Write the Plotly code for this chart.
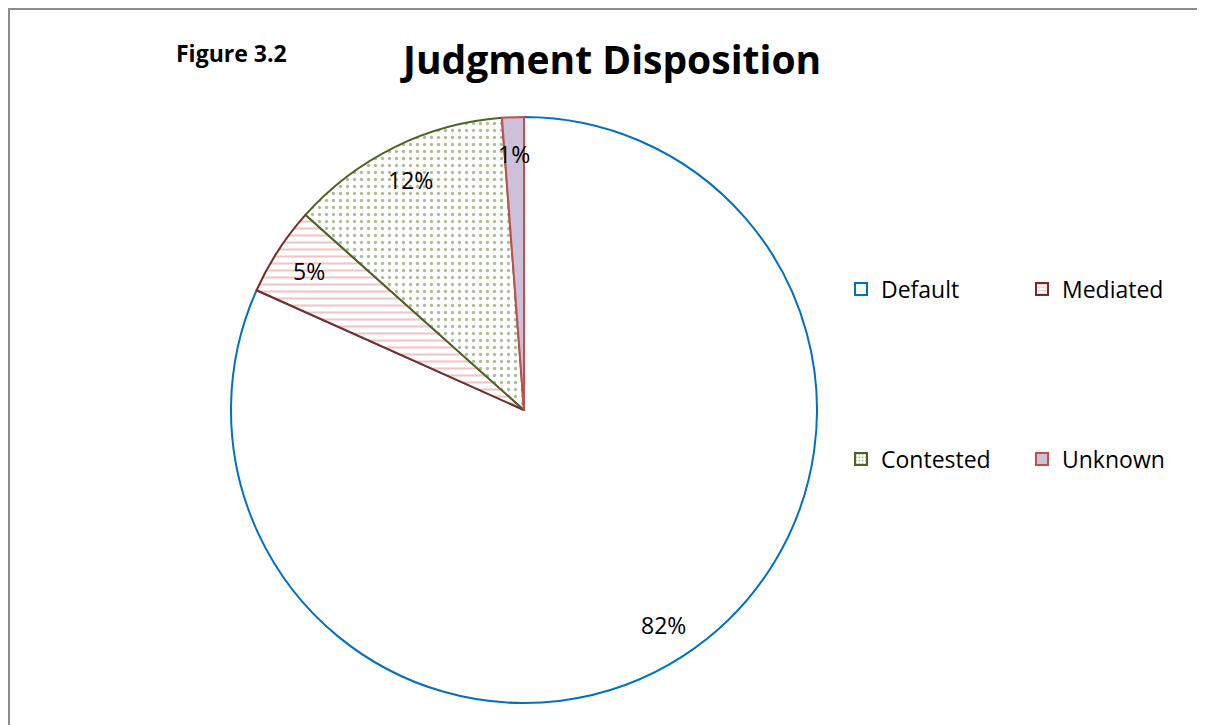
import math
import plotly.graph_objects as go

# ---- data ----
categories = ["Default", "Mediated", "Contested", "Unknown"]
values = [81.7, 4.9, 12.2, 1.2]
title_text = "Judgment Disposition"
figure_label = "Figure 3.2"

# ---- styles ----
fill_colors = ["#FFFFFF", "#FFFFFF", "#FFFFFF", "#CCC0DA"]
pattern_shapes = ["", "-", ".", ""]
pattern_fg = ["#FFFFFF", "#DE8E8E", "#5E7A2E", "#CCC0DA"]
pattern_size = [6, 7, 7, 6]
pattern_solid = [0.2, 0.3, 0.17, 0.2]
line_colors = ["#0070C0", "#772C2A", "#4F6228", "#C0504D"]
FONT = "Open Sans"

W, H = 1205, 725
OFF = 8  # page body margin: screen position = figure position + 8
def px(x):
    return (x - OFF) / W
def py(y):
    return 1 - (y - OFF) / H

cx_px, cy_px, r_px = 524, 410, 293
dom_x = [px(cx_px - r_px), px(cx_px + r_px)]
dom_y = [py(cy_px + r_px), py(cy_px - r_px)]

fig = go.Figure()
fig.add_trace(go.Pie(
    labels=categories, values=values, sort=False, direction="clockwise",
    rotation=0, textinfo="none", hoverinfo="label+percent", showlegend=False,
    domain=dict(x=dom_x, y=dom_y),
    marker=dict(
        colors=fill_colors,
        line=dict(color=line_colors, width=2),
        pattern=dict(shape=pattern_shapes, fgcolor=pattern_fg, bgcolor=fill_colors,
                     size=pattern_size, solidity=pattern_solid, fillmode="overlay"),
    ),
))

# legend entries (dummy bars so each entry can be placed in a grid)
legend_pos = [(841, 289), (1022, 289), (841, 459), (1022, 459)]
for i, cat in enumerate(categories):
    lname = "legend" if i == 0 else f"legend{i+1}"
    fig.add_trace(go.Bar(
        x=[0], y=[0], name=cat, legend=lname, showlegend=True, hoverinfo="skip",
        marker=dict(color=fill_colors[i], line=dict(color=line_colors[i], width=2),
                    pattern=dict(shape=pattern_shapes[i], fgcolor=pattern_fg[i],
                                 bgcolor=fill_colors[i], size=4, solidity=0.35,
                                 fillmode="overlay")),
    ))
    lx, ly = legend_pos[i]
    fig.layout[lname] = dict(x=px(lx), y=py(ly), xanchor="left", yanchor="middle",
                             bgcolor="rgba(0,0,0,0)", borderwidth=0,
                             font=dict(family=FONT, size=23, color="#000000"))

# percentage labels placed near the rim of each slice
total = sum(values)
cum = 0
annotations = []
for v in values:
    mid = (cum + v / 2) / total * 2 * math.pi
    cum += v
    f = 0.875
    ax = cx_px + r_px * f * math.sin(mid)
    ay = cy_px - r_px * f * math.cos(mid)
    annotations.append(dict(x=px(ax), y=py(ay), xref="paper", yref="paper",
                            text=f"{round(v)}%", showarrow=False,
                            xanchor="center", yanchor="middle",
                            font=dict(family=FONT, size=23, color="#000000")))

annotations.append(dict(x=px(610), y=py(59), xref="paper", yref="paper",
                        text=f"<b>{title_text}</b>", showarrow=False,
                        xanchor="center", yanchor="middle",
                        font=dict(family=FONT, size=39, color="#000000")))
annotations.append(dict(x=px(231), y=py(53), xref="paper", yref="paper",
                        text=f"<b>{figure_label}</b>", showarrow=False,
                        xanchor="center", yanchor="middle",
                        font=dict(family=FONT, size=23, color="#000000")))

fig.update_layout(
    width=W, height=H, margin=dict(l=0, r=0, t=0, b=0),
    paper_bgcolor="white", plot_bgcolor="white",
    xaxis=dict(visible=False, range=[5, 6]),
    yaxis=dict(visible=False, range=[5, 6]),
    annotations=annotations,
    shapes=[dict(type="rect", xref="paper", yref="paper",
                 x0=1 / W, x1=1.05, y0=-0.05, y1=1 - 1 / H,
                 line=dict(color="#8C8C8C", width=2), fillcolor="rgba(0,0,0,0)")],
)

fig.write_html("out.html")
